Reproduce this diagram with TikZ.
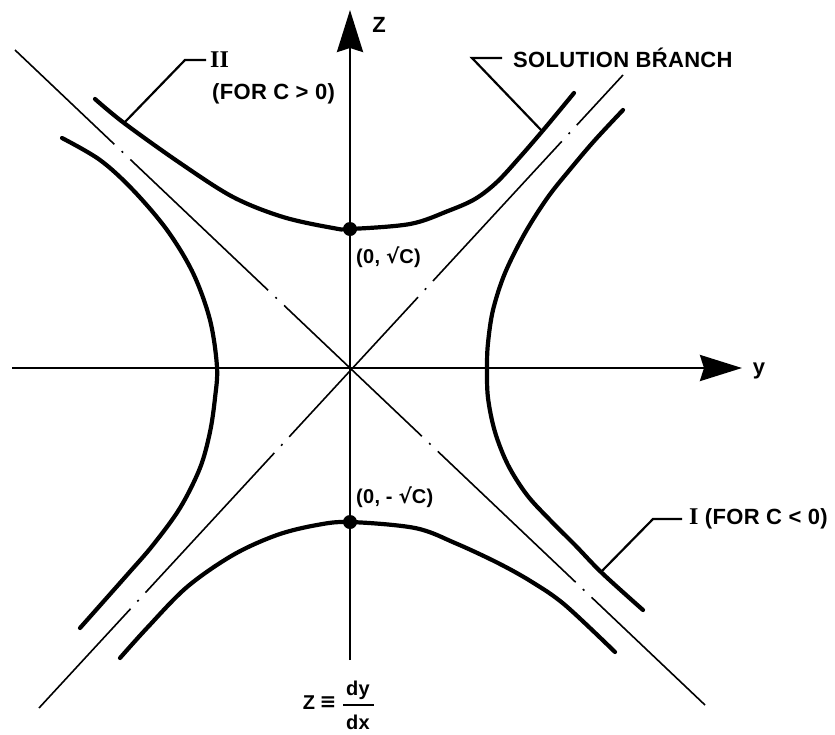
\documentclass[tikz,border=0pt]{standalone}
\usepackage{fontspec}
\setmainfont{Liberation Sans}
\newfontfamily\labfont[LetterSpace=1.5]{Liberation Sans}
\newfontfamily\romfont{Liberation Serif}
\newfontfamily\symfont{DejaVu Sans}
\usetikzlibrary{arrows.meta}
\begin{document}
\begin{tikzpicture}[x=1pt,y=-1pt,
  axis/.style={line width=2.8pt,-{Stealth[length=42pt,width=26pt,inset=4pt]}},
  asym/.style={line width=1.6pt,dash pattern=on 190pt off 10pt on 2pt off 10pt},
  branch/.style={line width=4.2pt,line cap=round},
  leader/.style={line width=2.2pt},
  dot/.style={circle,fill=black,inner sep=0pt,minimum size=14pt},
  lbl/.style={font=\labfont\bfseries\fontsize{22}{26}\selectfont,inner sep=0pt},
  slbl/.style={font=\labfont\bfseries\fontsize{20}{24}\selectfont,inner sep=0pt}]
\useasboundingbox (0,0) rectangle (835,734);
% axes
\coordinate (xl) at (12,368);
\coordinate (xr) at (742,368);
\coordinate (zb) at (350,660);
\coordinate (zt) at (350,10);
\draw[axis] (xl) -- (xr);
\draw[axis] (zb) -- (zt);
% asymptotes
\coordinate (a1) at (15,50);
\coordinate (a2) at (705,705);
\coordinate (b1) at (39,708);
\coordinate (b2) at (623,75);
\draw[asym,dash phase=53pt] (a1) -- (a2);
\draw[asym,dash phase=55pt] (b1) -- (b2);
% branch II (upper)
\draw[branch] plot[smooth,tension=0.55] coordinates {
 (95,99) (124,123) (180,163) (233,197) (283,217) (333,228) (350,229)
 (410,224) (448,211) (475,199) (497,182) (520,157) (545,128) (574,93)};
% branch II (lower)
\draw[branch] plot[smooth,tension=0.55] coordinates {
 (120,658) (147,628) (187,587) (233,555) (277,535) (317,525) (350,522)
 (415,528) (455,543) (498,563) (532,582) (565,605) (615,652)};
% branch I (left)
\draw[branch] plot[smooth,tension=0.55] coordinates {
 (62,138) (100,160) (133,190) (167,230) (193,273) (210,320) (217,367)
 (215,398) (210,432) (200,468) (180,508) (153,545) (127,575) (80,628)};
% branch I (right)
\draw[branch] plot[smooth,tension=0.55] coordinates {
 (623,110) (595,140) (572,167) (548,197) (525,233) (505,273) (493,310) (488,343) (487,367)
 (488,398) (495,432) (508,465) (527,495) (550,520) (575,545) (602,573) (643,610)};
% vertex dots
\node[dot] (vp) at (350,229) {};
\node[dot] (vm) at (350,522) {};
% labels
\node[lbl,anchor=west] (lII) at (210,60) {\romfont\bfseries\fontsize{24}{26}\selectfont II};
\node[lbl,anchor=west] (lfor2) at (212,94) {(FOR C > 0)};
\node[lbl,anchor=west] (lsol) at (513,58) {SOLUTION B\'RANCH};
\node[lbl,anchor=west] (lI) at (689,519) {{\romfont\bfseries\fontsize{24}{26}\selectfont I} (FOR C < 0)};
\node[slbl,anchor=west] (lp) at (356,257) {(0, {\symfont √}C)};
\node[slbl,anchor=west] (lm) at (356,497) {(0, - {\symfont √}C)};
\node[lbl] (lz) at (379,25) {Z};
\node[lbl] (ly) at (759,371) {y};
\node[slbl] (bz) at (309,703) {Z};
\node[slbl] (beq) at (328,703) {\symfont\bfseries ≡};
\node[slbl] (bdy) at (358,690) {dy};
\node[slbl] (bdx) at (358,722) {dx};
\draw[leader] (343,705) -- (374,705);
% leaders
\coordinate (c2) at (124,123);
\coordinate (k2) at (185,60);
\draw[leader] (c2) -- (k2) -- ([xshift=-4pt]lII.west);
\coordinate (cs) at (542,131);
\coordinate (ks) at (472,58);
\draw[leader] (cs) -- (ks) -- ([xshift=-11pt]lsol.west);
\coordinate (c1) at (600,573);
\coordinate (k1) at (653,519);
\draw[leader] (c1) -- (k1) -- ([xshift=-7pt]lI.west);
\end{tikzpicture}
\end{document}
